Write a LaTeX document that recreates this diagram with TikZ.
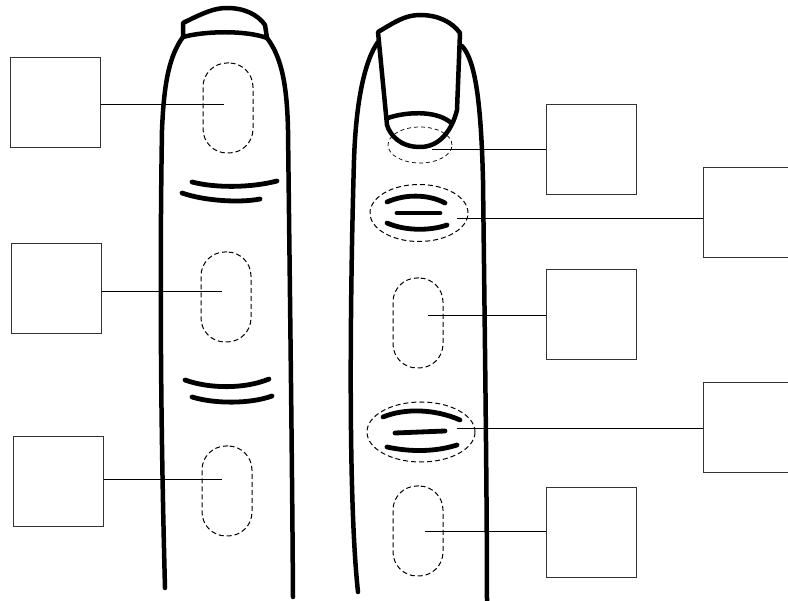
\documentclass[tikz,border=0pt]{standalone}
\usetikzlibrary{shapes.geometric}
\begin{document}
\begin{tikzpicture}[x=1pt,y=-1pt,
  outline/.style={line width=4.5pt, line cap=round, line join=round},
  crease/.style={line width=4.8pt, line cap=round},
  zone/.style={draw, dash pattern=on 5pt off 3pt, line width=1pt, inner sep=0pt},
  pad/.style={zone, rounded corners=24pt, minimum width=50pt, minimum height=90pt},
  fold/.style={zone, ellipse},
  labelbox/.style={draw=black!80, line width=1pt, minimum width=90pt, minimum height=90pt, inner sep=0pt},
  leader/.style={line width=1pt}]
\useasboundingbox (0,0) rectangle (788,601);

% ---------- left finger (palm side) ----------
\draw[outline] (183,37) .. controls (170,55) and (164,80) .. (162,130)
  .. controls (160,250) and (160,400) .. (165,588);
\draw[outline] (267,38) .. controls (280,55) and (287,80) .. (288,130)
  .. controls (290,300) and (292,450) .. (293,597);
% fingertip cap
\draw[outline] (183,37) -- (183,23) .. controls (205,12) and (215,8) .. (227,8)
  .. controls (245,8) and (258,15) .. (265,25) -- (267,38);
\draw[outline] (183,37) .. controls (205,31) and (245,30) .. (267,38);
% joint creases
\draw[crease] (192,182) .. controls (215,188) and (250,188) .. (277,181);
\draw[crease] (182,193) .. controls (205,201) and (240,203) .. (260,199);
\draw[crease] (185,380) .. controls (210,389) and (245,389) .. (269,379);
\draw[crease] (192,397) .. controls (215,404) and (250,404) .. (272,396);

% pads
\node[pad] (lp1) at (228,108) {};
\node[pad] (lp2) at (226,297) {};
\node[pad] (lp3) at (227,491) {};

% ---------- right finger (nail side) ----------
\draw[outline] (378,42) .. controls (365,60) and (356,100) .. (354,160)
  .. controls (350,300) and (348,500) .. (358,592);
\draw[outline] (462,46) .. controls (475,60) and (481,100) .. (483,180)
  .. controls (485,350) and (487,500) .. (487,606);
% nail
\draw[outline] (387,125) -- (378,32) .. controls (395,22) and (405,15) .. (420,15)
  .. controls (438,15) and (452,22) .. (460,33) -- (457,110)
  .. controls (452,130) and (440,147) .. (420,147)
  .. controls (400,147) and (390,135) .. (387,125);
\draw[outline] (388,118) .. controls (405,112) and (435,110) .. (450,122);

% knuckle wrinkles
\draw[crease] (387,202) .. controls (405,194) and (428,194) .. (445,203);
\draw[crease] (397,213) -- (440,213);
\draw[crease] (387,223) .. controls (405,231) and (430,231) .. (447,225);
\draw[crease] (383,417) .. controls (405,408) and (435,409) .. (460,420);
\draw[crease] (395,433) -- (445,431);
\draw[crease] (387,447) .. controls (410,452) and (435,452) .. (457,445);

% marked zones
\node[fold, line width=0.7pt, dash pattern=on 4pt off 3pt, minimum width=64pt, minimum height=36pt] (rz1) at (420,145) {};
\node[fold, minimum width=98pt, minimum height=57pt] (rz2) at (419,213) {};
\node[pad] (rz3) at (418,323) {};
\node[fold, minimum width=108pt, minimum height=60pt] (rz4) at (421,432) {};
\node[pad] (rz5) at (418,531) {};

% ---------- label boxes ----------
\node[labelbox] (lb1) at (55,103) {};
\node[labelbox] (lb2) at (56,289) {};
\node[labelbox] (lb3) at (58,482) {};
\node[labelbox] (rb1) at (591.5,150) {};
\node[labelbox] (rb2) at (748,213) {};
\node[labelbox] (rb3) at (591.5,315) {};
\node[labelbox] (rb4) at (748,428) {};
\node[labelbox] (rb5) at (591.5,533) {};

% leader ends inside the zones
\coordinate (e1) at (224,105);
\coordinate (e2) at (222,292);
\coordinate (e3) at (222,480);
\coordinate (f1) at (432,150);
\coordinate (f2) at (457,219);
\coordinate (f3) at (428,316);
\coordinate (f4) at (457,429);
\coordinate (f5) at (425,532);

\draw[leader] (lb1.east |- e1) -- (e1);
\draw[leader] (lb2.east |- e2) -- (e2);
\draw[leader] (lb3.east |- e3) -- (e3);
\draw[leader] (f1) -- (f1 -| rb1.west);
\draw[leader] (f2) -- (f2 -| rb2.west);
\draw[leader] (f3) -- (f3 -| rb3.west);
\draw[leader] (f4) -- (f4 -| rb4.west);
\draw[leader] (f5) -- (f5 -| rb5.west);
\end{tikzpicture}
\end{document}
